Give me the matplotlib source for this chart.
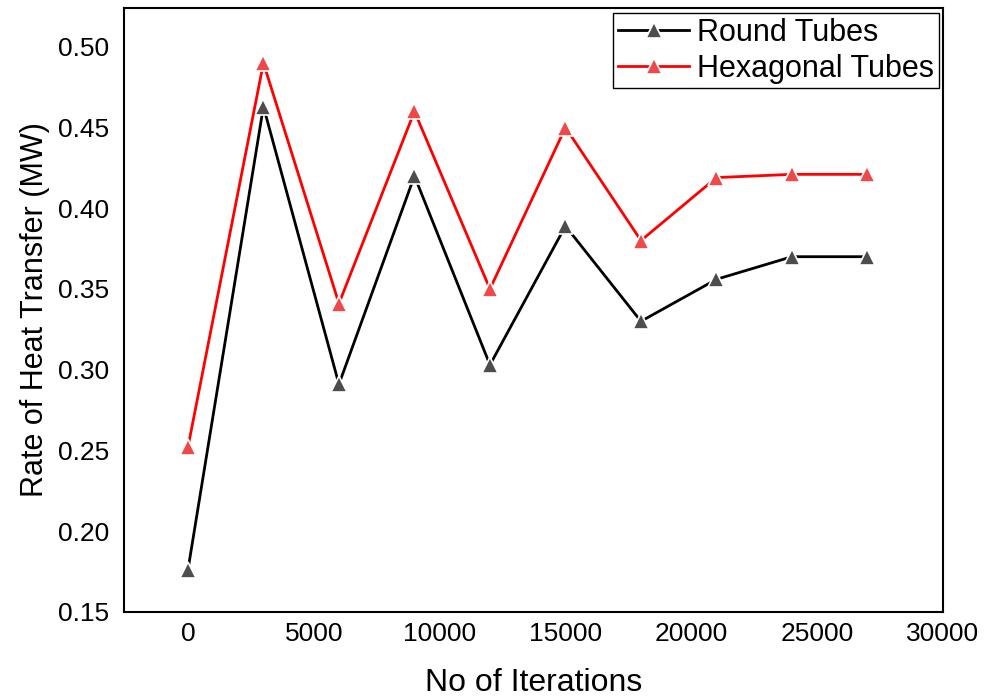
import matplotlib
matplotlib.use("Agg")
import matplotlib.pyplot as plt

plt.rcParams['font.family'] = ['Liberation Sans', 'DejaVu Sans']

iterations = [0, 3000, 6000, 9000, 12000, 15000, 18000, 21000, 24000, 27000]
round_tubes = [0.176, 0.463, 0.291, 0.420, 0.303, 0.389, 0.330, 0.356, 0.370, 0.370]
hex_tubes = [0.252, 0.490, 0.341, 0.460, 0.350, 0.450, 0.380, 0.419, 0.421, 0.421]
xticks = [0, 5000, 10000, 15000, 20000, 25000, 30000]
yticks = [0.15, 0.20, 0.25, 0.30, 0.35, 0.40, 0.45, 0.50]

fig = plt.figure(figsize=(9.92, 6.97), dpi=100)
ax = fig.add_axes([0.125, 0.122, 0.8256, 0.8665])

ax.plot(iterations, round_tubes, color='black', lw=2.0, marker='^', ms=12,
        mfc='#4d4d4d', mec='white', mew=1.2, label='Round Tubes')
ax.plot(iterations, hex_tubes, color='#ff0000', lw=2.0, marker='^', ms=12,
        mfc='#f04848', mec='white', mew=1.2, label='Hexagonal Tubes')

ax.set_xlim(-2540, 30000)
ax.set_ylim(0.15, 0.524)
ax.set_xticks(xticks)
ax.set_xticklabels([str(v) for v in xticks])
ax.set_yticks(yticks)
ax.set_yticklabels([f"{v:.2f}" for v in yticks])
ax.tick_params(length=0, labelsize=19)
ax.tick_params(axis='x', pad=7)
ax.tick_params(axis='y', pad=10.5)
for s in ax.spines.values():
    s.set_linewidth(1.5)

ax.set_xlabel('No of Iterations', fontsize=23)
ax.xaxis.set_label_coords(0.5, -0.093)
ax.set_ylabel('Rate of Heat Transfer (MW)', fontsize=22)
ax.yaxis.set_label_coords(-0.0903, 0.5)

leg = ax.legend(loc='upper right', bbox_to_anchor=(0.9951, 0.9917),
                fontsize=22, frameon=True, fancybox=False,
                edgecolor='black', framealpha=1, borderpad=0.15, labelspacing=0.2,
                handlelength=2.35, handletextpad=0.26, borderaxespad=0)
leg.get_frame().set_linewidth(1.0)

fig.savefig('out.png', dpi=100)
